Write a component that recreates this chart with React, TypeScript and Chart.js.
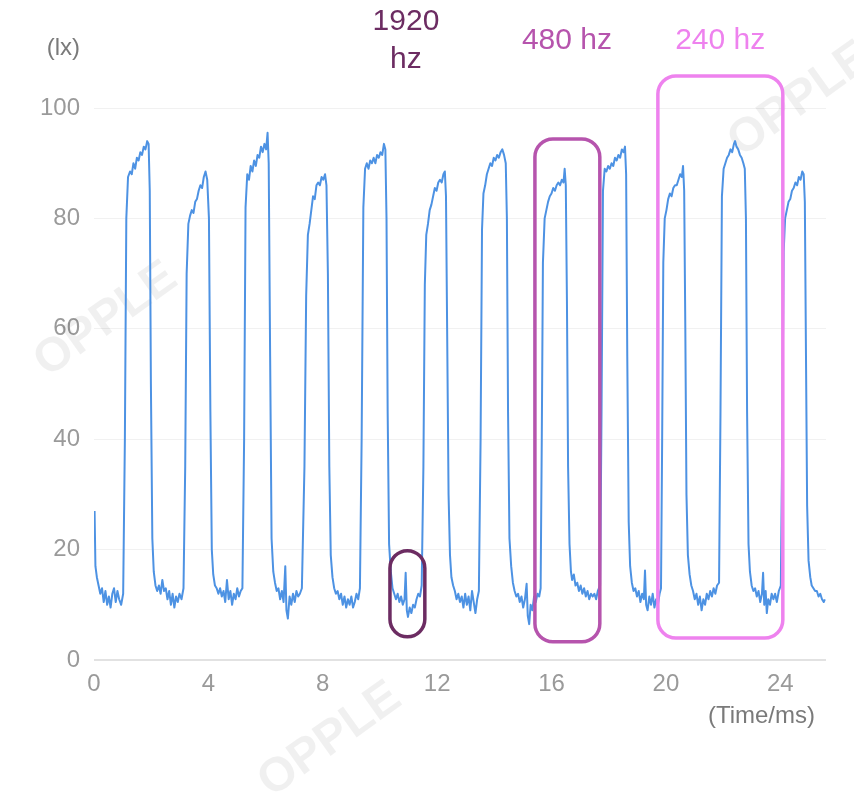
import React, { useEffect, useRef } from "react";
import { Chart, registerables } from "chart.js";

Chart.register(...registerables);

// ---- axis / tick data ----
const xTicks = [0, 4, 8, 12, 16, 20, 24];
const yTicks = [0, 20, 40, 60, 80, 100];
const xMin = 0;
const xMax = 25.6;
const yMin = 0;
const yMax = 100;
const yUnit = "(lx)";
const xUnit = "(Time/ms)";

// ---- light waveform: [time ms, illuminance lx] ----
const low0 = [[0.02,27],[0.05,17],[0.1,15],[0.16,13.5],[0.22,12],[0.28,13],[0.34,10.5],[0.4,12.5],[0.46,10],[0.52,11.5],[0.58,9.5],[0.64,12],[0.7,13],[0.76,10.5],[0.82,12.5],[0.88,11],[0.95,10],[1.02,12]];
const pulse1 = [[1.08,40],[1.13,80],[1.19,87.5],[1.26,88.5],[1.32,88],[1.38,90],[1.44,89],[1.5,91],[1.56,90.5],[1.62,92],[1.68,91.5],[1.74,93],[1.8,92.5],[1.86,94],[1.91,93.5],[1.95,85],[1.99,50],[2.04,22]];
const low1 = [[2.09,16],[2.15,13.5],[2.21,12.5],[2.27,13.5],[2.33,12],[2.39,14.5],[2.45,12.5],[2.51,13],[2.57,11],[2.63,12.5],[2.69,10],[2.75,12],[2.81,9.5],[2.87,11.5],[2.93,10.5],[2.99,12],[3.06,11],[3.13,13]];
const pulse2 = [[3.19,35],[3.24,70],[3.3,79],[3.36,80.5],[3.42,81.5],[3.48,81],[3.54,83],[3.6,83.5],[3.66,85],[3.72,86],[3.78,85.5],[3.84,87.5],[3.9,88.5],[3.96,87],[4.02,80],[4.07,45],[4.12,20]];
const low2 = [[4.17,15.5],[4.23,13.5],[4.29,13],[4.35,12],[4.41,13],[4.47,11.5],[4.53,12.5],[4.59,10.5],[4.65,14.5],[4.71,11],[4.77,12.5],[4.83,10],[4.89,12],[4.95,11],[5.01,13],[5.07,11.5],[5.13,12.5],[5.19,13]];
const pulse3 = [[5.25,40],[5.3,82],[5.36,88],[5.42,87],[5.48,89.5],[5.54,88.5],[5.6,90.5],[5.66,89.5],[5.72,91.5],[5.78,91],[5.84,93],[5.9,92],[5.96,93.5],[6.02,92.5],[6.07,95.5],[6.11,90],[6.16,55],[6.21,22]];
const low3 = [[6.27,16],[6.33,14],[6.39,12.5],[6.45,13],[6.51,11],[6.57,12.5],[6.63,10.5],[6.69,17],[6.73,9],[6.78,7.5],[6.84,11.5],[6.9,10],[6.96,12],[7.02,10.5],[7.08,12.5],[7.14,11.5],[7.2,12],[7.27,13]];
const pulse4 = [[7.36,35],[7.42,66],[7.48,77],[7.54,79],[7.6,81.5],[7.66,84],[7.72,83.5],[7.78,86],[7.84,86.5],[7.9,86],[7.96,87.5],[8.02,87],[8.08,88],[8.13,86],[8.18,70],[8.23,35],[8.28,19]];
const low4 = [[8.34,15],[8.4,13],[8.46,12],[8.52,12.5],[8.58,11],[8.64,12],[8.7,10],[8.76,11.5],[8.82,9.5],[8.88,11],[8.94,10],[9.0,11.5],[9.06,9.5],[9.12,10.5],[9.18,12],[9.24,11],[9.3,13]];
const pulse5 = [[9.36,40],[9.42,82],[9.48,89],[9.54,90],[9.6,89],[9.66,90.5],[9.72,90],[9.78,91],[9.84,90],[9.9,91.5],[9.96,91],[10.02,92],[10.08,91.5],[10.14,93.5],[10.19,92.5],[10.23,80],[10.27,45],[10.32,21]];
const low5 = [[10.38,16],[10.44,13],[10.5,12],[10.56,11],[10.62,12],[10.68,10.5],[10.74,11.5],[10.8,10],[10.86,11],[10.9,15.8],[10.94,9],[10.98,7.8],[11.04,9.5],[11.1,8.5],[11.16,10],[11.22,9.5],[11.28,11],[11.34,12],[11.4,11.5],[11.46,13.5]];
const pulse6 = [[11.52,35],[11.57,68],[11.62,77],[11.68,79],[11.74,81.5],[11.8,82.5],[11.86,84],[11.92,85.5],[11.98,85],[12.04,86.5],[12.1,87],[12.16,86.5],[12.22,88],[12.27,88.5],[12.31,84],[12.35,60],[12.4,30],[12.45,19]];
const low6 = [[12.5,15],[12.56,13.5],[12.62,12.5],[12.68,11],[12.74,12],[12.8,10.5],[12.86,11.5],[12.92,9.5],[12.98,12],[13.04,10],[13.1,11.5],[13.16,9],[13.22,12.5],[13.28,10.5],[13.34,8.5],[13.4,11],[13.46,12.5]];
const pulse7 = [[13.52,40],[13.57,78],[13.62,84.5],[13.68,86],[13.74,88],[13.8,89],[13.86,90],[13.92,89.5],[13.98,91],[14.04,90.5],[14.1,91.5],[14.16,91],[14.22,92],[14.28,92.5],[14.34,91.5],[14.4,90],[14.44,80],[14.48,45],[14.53,22]];
const low7 = [[14.59,17],[14.65,14],[14.71,12.5],[14.77,11.5],[14.83,12],[14.89,10.5],[14.95,11.5],[15.01,9.5],[15.07,11],[15.13,13.8],[15.17,8],[15.22,6.5],[15.27,10],[15.33,9],[15.39,11.5],[15.45,10.5],[15.51,12],[15.57,11.5],[15.62,13]];
const pulse8 = [[15.66,40],[15.7,72],[15.76,80],[15.82,81.5],[15.88,83],[15.94,84],[16.0,84.5],[16.06,85.5],[16.12,85],[16.18,86],[16.24,86.5],[16.3,86],[16.36,87],[16.42,86.5],[16.46,89],[16.5,86],[16.54,65],[16.58,35],[16.63,21]];
const low8 = [[16.68,16],[16.72,14.5],[16.78,15.5],[16.84,13.5],[16.9,14],[16.96,12.5],[17.02,13.5],[17.08,12],[17.14,13],[17.2,11.5],[17.26,12.5],[17.32,11],[17.38,12],[17.44,11.5],[17.5,12],[17.56,11],[17.62,12.5],[17.7,13.5]];
const pulse9 = [[17.75,45],[17.8,85],[17.86,89],[17.92,88.5],[17.98,89.5],[18.04,89],[18.1,90],[18.16,89.5],[18.22,91],[18.28,90.5],[18.34,91.5],[18.4,91],[18.46,92.5],[18.52,92],[18.57,93],[18.61,88],[18.65,55],[18.7,25]];
const low9 = [[18.75,17],[18.81,14],[18.87,12.5],[18.93,13],[18.99,11.5],[19.05,12.5],[19.11,10.5],[19.17,12],[19.23,11],[19.27,16.2],[19.31,10],[19.36,9],[19.42,11.5],[19.48,10],[19.54,12],[19.6,9.5],[19.66,11],[19.72,10],[19.78,12],[19.83,13]];
const pulse10 = [[19.87,40],[19.91,72],[19.96,80],[20.02,81.5],[20.08,83.5],[20.14,84.5],[20.2,84],[20.26,85.5],[20.32,86],[20.38,86],[20.44,87],[20.5,88],[20.56,87.5],[20.6,89.5],[20.64,85],[20.68,60],[20.72,30],[20.77,19]];
const low10 = [[20.83,15.5],[20.89,13.5],[20.95,12.5],[21.01,11],[21.07,12],[21.13,10],[21.19,11.5],[21.25,9],[21.31,11],[21.37,10],[21.43,12],[21.49,11],[21.55,12.5],[21.61,11.5],[21.67,13],[21.73,12],[21.79,13.5],[21.86,14]];
const pulse11 = [[21.91,45],[21.96,84],[22.02,89],[22.08,90],[22.14,91],[22.2,91.5],[22.26,92.5],[22.32,92],[22.38,93.5],[22.42,94],[22.47,93],[22.53,92.5],[22.59,91.5],[22.65,91],[22.71,90],[22.76,89],[22.8,80],[22.84,45],[22.89,21]];
const low11 = [[22.94,16],[23.0,13.5],[23.06,12.5],[23.12,13],[23.18,11.5],[23.24,12.5],[23.3,10.5],[23.36,12],[23.4,15.8],[23.44,10],[23.49,12.5],[23.53,8.5],[23.58,11],[23.64,10],[23.7,12],[23.76,11],[23.82,12],[23.88,10.5],[23.95,12.5],[24.02,13.5]];
const pulse12 = [[24.07,40],[24.12,74],[24.17,80],[24.23,81.5],[24.29,83],[24.35,83.5],[24.41,85],[24.47,85.5],[24.53,86.5],[24.59,86],[24.65,87.5],[24.71,87],[24.77,88.5],[24.82,88],[24.86,83],[24.9,55],[24.94,28],[24.99,18]];
const low12 = [[25.05,15],[25.1,13.5],[25.16,13],[25.22,12.5],[25.28,12.5],[25.34,11.5],[25.4,12],[25.46,11],[25.52,10.5],[25.56,11]];

const segments = [low0, pulse1, low1, pulse2, low2, pulse3, low3, pulse4, low4, pulse5, low5, pulse6, low6, pulse7, low7, pulse8, low8, pulse9, low9, pulse10, low10, pulse11, low11, pulse12, low12];

// ---- highlighted frequency windows (data coordinates) ----
const windowLabels = [["1920", "hz"], ["480 hz"], ["240 hz"]];
const windowLabelX = [10.91, 16.54, 21.9];
const windowXRange = [[10.35, 11.57], [15.42, 17.69], [19.72, 24.09]];
const windowYRange = [[4.2, 19.8], [3.3, 94.4], [4.0, 105.8]];
const windowColors = ["#6c2c62", "#b654ad", "#ee82ee"];

const watermarkText = "OPPLE";

const FONT = "'Liberation Sans', Arial, Helvetica, sans-serif";

const overlayPlugin = {
  id: "overlay",
  beforeDatasetsDraw(chart: any) {
    const { ctx } = chart;
    ctx.save();
    ctx.fillStyle = "rgba(0,0,0,0.06)";
    ctx.font = `bold 48px ${FONT}`;
    ctx.textAlign = "center";
    ctx.textBaseline = "middle";
    const spots = [[106, 320], [330, 740], [800, 100]];
    spots.forEach(([cx, cy]) => {
      ctx.save();
      ctx.translate(cx, cy);
      ctx.rotate(-0.62);
      ctx.fillText(watermarkText, 0, 0);
      ctx.restore();
    });
    ctx.restore();
  },
  afterDatasetsDraw(chart: any) {
    const { ctx, chartArea, scales } = chart;
    const x = scales.x;
    const y = scales.y;
    ctx.save();
    windowXRange.forEach((xr, i) => {
      const l = x.getPixelForValue(xr[0]);
      const r = x.getPixelForValue(xr[1]);
      const t = y.getPixelForValue(windowYRange[i][1]);
      const b = y.getPixelForValue(windowYRange[i][0]);
      ctx.beginPath();
      ctx.roundRect(l, t, r - l, b - t, Math.min(18, (r - l) / 2));
      ctx.strokeStyle = windowColors[i];
      ctx.lineWidth = 3.5;
      ctx.stroke();

      const lines = windowLabels[i];
      ctx.fillStyle = windowColors[i];
      ctx.font = `30px ${FONT}`;
      ctx.textAlign = "center";
      ctx.textBaseline = "middle";
      const cx = x.getPixelForValue(windowLabelX[i]);
      const cy = chartArea.top - 67;
      const step = 38;
      lines.forEach((ln, k) => {
        ctx.fillText(ln, cx, cy + (k - (lines.length - 1) / 2) * step);
      });
    });

    ctx.fillStyle = "#7a7a7a";
    ctx.font = `24px ${FONT}`;
    ctx.textAlign = "right";
    ctx.textBaseline = "middle";
    ctx.fillText(yUnit, chartArea.left - 14, chartArea.top - 60);
    ctx.fillText(xUnit, chartArea.right - 11, chartArea.bottom + 56);
    ctx.restore();
  },
};

export default function App() {
  const ref = useRef<HTMLCanvasElement | null>(null);

  useEffect(() => {
    if (!ref.current) return;
    const points = segments.flat().map(([t, v]) => ({ x: t, y: v }));
    const chart = new Chart(ref.current, {
      type: "line",
      data: {
        datasets: [
          {
            data: points,
            borderColor: "#4d92e3",
            borderWidth: 2,
            pointRadius: 0,
            tension: 0,
            fill: false,
            borderJoinStyle: "round",
          } as any,
        ],
      },
      options: {
        responsive: false,
        animation: false,
        events: [],
        layout: { padding: { left: 8, right: 28, top: 108, bottom: 92 } },
        plugins: {
          legend: { display: false },
          tooltip: { enabled: false },
          title: { display: false },
        },
        scales: {
          x: {
            type: "linear",
            min: xMin,
            max: xMax,
            afterBuildTicks: (scale: any) => {
              scale.ticks = xTicks.map((v) => ({ value: v }));
            },
            afterFit: (scale: any) => {
              scale.height = 40;
            },
            grid: { display: false, drawTicks: false },
            border: { display: false },
            ticks: {
              padding: 10,
              color: "#9a9a9a",
              font: { family: FONT, size: 24 },
              maxRotation: 0,
              autoSkip: false,
            },
          },
          y: {
            type: "linear",
            min: yMin,
            max: yMax,
            afterBuildTicks: (scale: any) => {
              scale.ticks = yTicks.map((v) => ({ value: v }));
            },
            afterFit: (scale: any) => {
              scale.width = 86;
            },
            grid: {
              drawTicks: false,
              color: (c: any) => (c.tick && c.tick.value === 0 ? "#e2e2e2" : "#f1f1f1"),
              lineWidth: (c: any) => (c.tick && c.tick.value === 0 ? 2 : 1),
            },
            border: { display: false },
            ticks: {
              padding: 14,
              color: "#9a9a9a",
              font: { family: FONT, size: 24 },
              autoSkip: false,
            },
          },
        },
      },
      plugins: [overlayPlugin],
    });
    return () => chart.destroy();
  }, []);

  return (
    <div style={{ position: "absolute", left: 0, top: 0, width: 854, height: 792, background: "#fff" }}>
      <canvas ref={ref} width={854} height={792} style={{ display: "block", width: 854, height: 792 }} />
    </div>
  );
}
